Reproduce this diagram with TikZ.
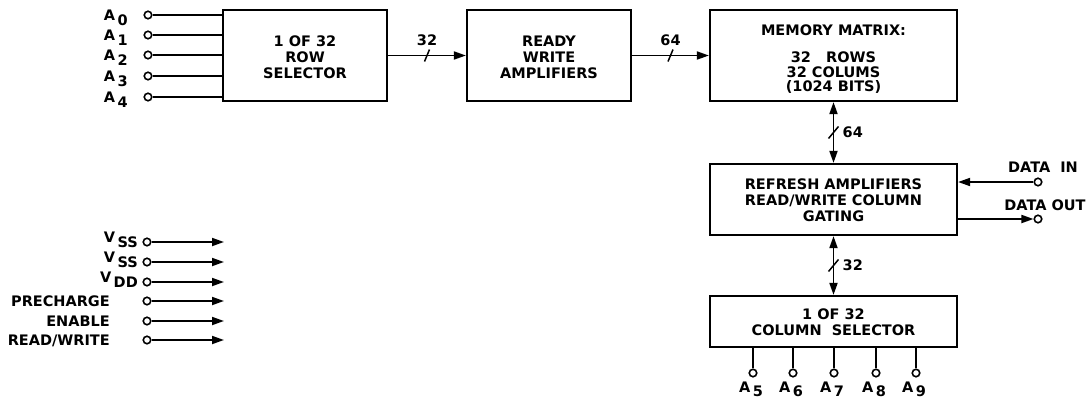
\documentclass[tikz,border=0pt]{standalone}
\usepackage{fontspec}
\setmainfont{DejaVu Sans}
\usetikzlibrary{arrows.meta,calc}
\newcommand\lsub[2]{#1\hspace{2.5pt}\raisebox{-4.5pt}{#2}}
\begin{document}
\begin{tikzpicture}[x=1pt,y=-1pt,
  font=\fontsize{14.5}{16}\selectfont\bfseries,
  box/.style={draw, line width=2.2pt, inner sep=0pt},
  txt/.style={inner sep=0pt, align=center},
  wire/.style={line width=1.8pt},
  arr/.style={wire, -{Triangle[length=12pt,width=8pt]}},
  darr/.style={wire, {Triangle[length=12pt,width=8pt]}-{Triangle[length=12pt,width=8pt]}},
  term/.style={circle, draw, line width=1.6pt, fill=white, inner sep=0pt, minimum size=7.5pt},
  lbl/.style={inner sep=0pt},
  busmark/.style={line width=1.5pt}
]
\useasboundingbox (0,0) rectangle (1090,400);

% boxes
\node[box, minimum width=164pt, minimum height=91pt] (row) at (305,55.5) {};
\node[txt] (rowt) at (305,57.5) {1 OF 32\\ROW\\SELECTOR};
\node[box, minimum width=164pt, minimum height=91pt] (ready) at (549,55.5) {};
\node[txt] (readyt) at (549,57.5) {READY\\WRITE\\AMPLIFIERS};
\node[box, minimum width=247pt, minimum height=91pt] (mem) at (833.5,55.5) {};
\node[txt] (memt) at (833.5,59.5) {MEMORY MATRIX:\\[11pt]32\ \ \ ROWS\\[-1.5pt]32 COLUMS\\[-1.5pt](1024 BITS)};
\node[box, minimum width=247pt, minimum height=71pt] (refr) at (833.5,199.5) {};
\node[txt] (refrt) at (833.5,200) {REFRESH AMPLIFIERS\\READ/WRITE COLUMN\\GATING};
\node[box, minimum width=247pt, minimum height=51pt] (col) at (833.5,321.5) {};
\node[txt] (colt) at (833.5,322.5) {1 OF 32\\COLUMN\ \ SELECTOR};

% row address inputs
\foreach \i/\y in {0/15,1/35,2/55,3/76,4/97}{
  \node[term] (a\i) at (148,\y) {};
  \draw[wire] (a\i) -- (a\i -| row.west);
  \node[lbl, anchor=base east] (la\i) at (128,\y+5.5) {\lsub{A}{\i}};
}

% horizontal buses
\draw[arr] (row.east) -- (ready.west);
\coordinate (s1) at ($(row.east)!0.5!(ready.west)$);
\draw[busmark] ($(s1)+(-2.5,6)$) -- ($(s1)+(2.5,-6)$);
\node[lbl] (l32a) at ($(s1)+(0,-15)$) {32};

\draw[arr] (ready.east) -- (mem.west);
\coordinate (s2) at ($(ready.east)!0.5!(mem.west)$);
\draw[busmark] ($(s2)+(-2.5,6)$) -- ($(s2)+(2.5,-6)$);
\node[lbl] (l64a) at ($(s2)+(0,-15)$) {64};

% vertical buses
\coordinate (v1a) at (mem.south);
\coordinate (v1b) at (mem.south |- refr.north);
\draw[darr] (v1a) -- (v1b);
\coordinate (s3) at ($(v1a)!0.5!(v1b)$);
\draw[busmark] ($(s3)+(-5,6)$) -- ($(s3)+(5,-6)$);
\node[lbl, anchor=west] (l64b) at ($(s3)+(9,0)$) {64};

\coordinate (v2a) at (refr.south);
\coordinate (v2b) at (refr.south |- col.north);
\draw[darr] (v2a) -- (v2b);
\coordinate (s4) at ($(v2a)!0.5!(v2b)$);
\draw[busmark] ($(s4)+(-5,6)$) -- ($(s4)+(5,-6)$);
\node[lbl, anchor=west] (l32b) at ($(s4)+(9,0)$) {32};

% data in / out
\node[term] (din) at (1038,182) {};
\draw[arr] (din) -- (din -| refr.east);
\node[lbl, anchor=base] (ldin) at (1043,172.5) {DATA\ \ IN};
\node[term] (dout) at (1038,219) {};
\draw[arr] (dout -| refr.east) -- (dout);
\node[lbl, anchor=base] (ldout) at (1045,210) {DATA\ OUT};

% column address pins
\foreach \i/\x in {5/753,6/793,7/834,8/876,9/916}{
  \node[term] (a\i) at (\x,373) {};
  \draw[wire] (a\i |- col.south) -- (a\i);
  \node[lbl, anchor=base] (la\i) at (\x-2,392) {\lsub{A}{\i}};
}

% supply / control inputs
\foreach \n/\y in {p1/242,p2/262,p3/282,p4/301,p5/321,p6/340}{
  \node[term] (\n) at (147,\y) {};
  \coordinate (\n e) at (224,\y);
  \draw[arr] (\n) -- (\n e);
}
\node[lbl, anchor=base east] (lp1) at (138,242.5) {\lsub{V}{SS}};
\node[lbl, anchor=base east] (lp2) at (138,262.5) {\lsub{V}{SS}};
\node[lbl, anchor=base east] (lp3) at (138,282.5) {\lsub{V}{DD}};
\node[lbl, anchor=base east] (lp4) at (110,306.5) {PRECHARGE};
\node[lbl, anchor=base east] (lp5) at (110,326.5) {ENABLE};
\node[lbl, anchor=base east] (lp6) at (110,345.5) {READ/WRITE};
\end{tikzpicture}
\end{document}
